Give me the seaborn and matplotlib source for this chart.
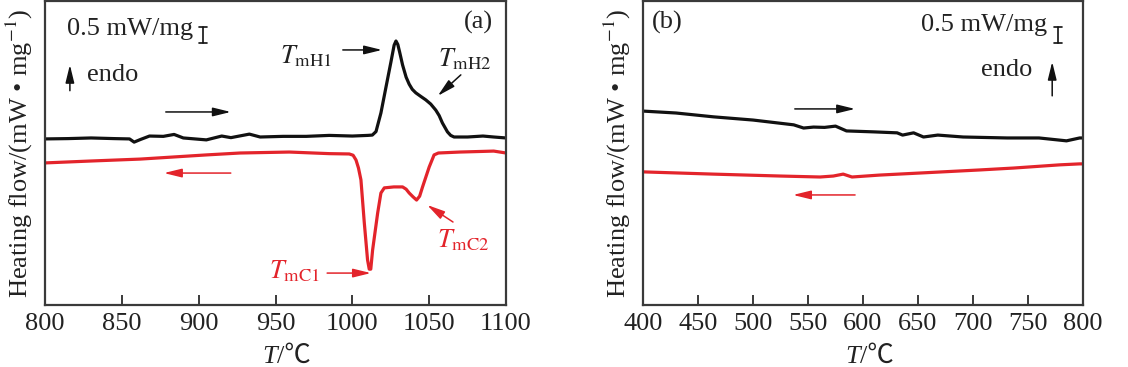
import numpy as np
import pandas as pd
import matplotlib
matplotlib.use("Agg")
import matplotlib.pyplot as plt
import seaborn as sns

# ---------------- data (heat flow, mW/mg, arbitrary offset) ----------------
# Panel (a): 800-1100 C
a_heat_T = [800, 815, 830, 845, 855, 858, 862, 868, 877, 884, 890, 905, 915, 921, 933,
            940, 955, 970, 985, 1000, 1010, 1013, 1015.4, 1018.6, 1021.9, 1025.1, 1027.2,
            1028.4, 1029.6, 1030.8, 1032.7, 1035, 1037, 1039, 1041.3, 1044.5, 1047.8,
            1051, 1054.3, 1056.5, 1058.6, 1061.9, 1064, 1066.2, 1075, 1085, 1092, 1100]
a_heat_Q = [5.19, 5.20, 5.22, 5.20, 5.19, 5.09, 5.17, 5.28, 5.27, 5.33, 5.22, 5.16, 5.28,
            5.23, 5.34, 5.25, 5.27, 5.27, 5.30, 5.28, 5.30, 5.31, 5.42, 6.00, 6.81, 7.59,
            8.12, 8.25, 8.14, 7.90, 7.50, 7.12, 6.90, 6.74, 6.63, 6.52, 6.41, 6.28, 6.09,
            5.92, 5.69, 5.41, 5.30, 5.25, 5.25, 5.28, 5.25, 5.22]

a_cool_T = [800, 830, 862, 905, 927, 959, 985, 998, 1000.5, 1002.4, 1004, 1005.6, 1007.8,
            1009.9, 1011, 1012, 1013.2, 1016.5, 1018.6, 1020.8, 1027, 1032.7, 1035, 1037,
            1039.5, 1041.8, 1043.8, 1045.7, 1050, 1053.2, 1056, 1070, 1085, 1092, 1100]
a_cool_Q = [4.44, 4.50, 4.56, 4.69, 4.75, 4.78, 4.73, 4.72, 4.68, 4.53, 4.28, 3.91, 2.56,
            1.41, 1.12, 1.12, 1.72, 2.88, 3.50, 3.66, 3.69, 3.69, 3.62, 3.50, 3.38, 3.28,
            3.40, 3.69, 4.31, 4.69, 4.75, 4.78, 4.80, 4.81, 4.75]

# Panel (b): 400-800 C
b_heat_T = [400, 430, 464, 500, 537, 546, 555, 565, 575, 585, 610, 631, 636, 646, 655,
            668, 691, 731, 760, 785, 797, 800]
b_heat_Q = [6.06, 6.00, 5.88, 5.78, 5.63, 5.53, 5.56, 5.55, 5.59, 5.44, 5.41, 5.38, 5.31,
            5.38, 5.25, 5.31, 5.25, 5.22, 5.22, 5.13, 5.22, 5.22]

b_cool_T = [400, 464, 525, 561, 573, 582, 590, 615, 655, 706, 737, 779, 797, 800]
b_cool_Q = [4.16, 4.09, 4.03, 4.00, 4.03, 4.09, 4.00, 4.06, 4.13, 4.22, 4.28, 4.38, 4.41, 4.41]

a_ticks = [800, 850, 900, 950, 1000, 1050, 1100]
b_ticks = [400, 450, 500, 550, 600, 650, 700, 750, 800]
scale_bar = 0.5   # mW/mg

# ---------------- style ----------------
sns.set_theme(style="white")
plt.rcParams["font.family"] = ["Liberation Serif", "Noto Sans CJK SC", "DejaVu Sans"]
plt.rcParams["mathtext.fontset"] = "stix"

BLACK = "#111111"
RED = "#e3242b"
SPINE = "#3a3a3a"
TXT = "#222222"
FS = 19

fig = plt.figure(figsize=(11.28, 3.67), dpi=100)
axA = fig.add_axes([45 / 1128, 1 - 305 / 367, 461 / 1128, 304 / 367])
axB = fig.add_axes([643 / 1128, 1 - 305 / 367, 440 / 1128, 304 / 367])

def style_axes(ax, xlim, ticks, split):
    ax.set_xlim(*xlim)
    ax.set_ylim(0, 9.5)
    ax.set_xticks(ticks)
    ax.set_xticklabels([str(t) for t in ticks], fontsize=FS, color=TXT)
    ax.set_yticks([])
    ax.tick_params(axis="x", direction="in", length=7, width=1.4, color=SPINE,
                   pad=6, bottom=True, top=False)
    for s in ax.spines.values():
        s.set_visible(True)
        s.set_color(SPINE)
        s.set_linewidth(1.6)
    # x label  "T/℃"  (T italic)
    ax.text(split, -0.171, "T", transform=ax.transAxes, fontsize=FS, color=TXT,
            fontstyle="italic", family="Liberation Serif", ha="right", va="center")
    ax.text(split, -0.171, "/℃", transform=ax.transAxes, fontsize=FS, color=TXT,
            family=["Liberation Serif", "Noto Sans CJK SC"], ha="left", va="center")
    ax.set_ylabel(r"Heating flow/(mW • mg$^{-1}$)", fontsize=FS, color=TXT,
                  labelpad=7)

def arrow(ax, xy_from, xy_to, color, lw=1.1):
    ax.annotate("", xy=xy_to, xytext=xy_from, xycoords="axes fraction",
                textcoords="axes fraction",
                arrowprops=dict(arrowstyle="-|>,head_length=0.9,head_width=0.22",
                                color=color, lw=lw, mutation_scale=12,
                                shrinkA=0, shrinkB=0))

def scalebar(ax, x, y0, y1):
    ax.plot([x, x], [y0, y1], color=BLACK, lw=1.2)
    w = (ax.get_xlim()[1] - ax.get_xlim()[0]) * 0.009
    ax.plot([x - w, x + w], [y0, y0], color=BLACK, lw=1.2)
    ax.plot([x - w, x + w], [y1, y1], color=BLACK, lw=1.2)

# ---------------- panel (a) ----------------
dfa_h = pd.DataFrame({"T": a_heat_T, "Q": a_heat_Q})
dfa_c = pd.DataFrame({"T": a_cool_T, "Q": a_cool_Q})
sns.lineplot(data=dfa_h, x="T", y="Q", ax=axA, color=BLACK, lw=2.3)
sns.lineplot(data=dfa_c, x="T", y="Q", ax=axA, color=RED, lw=2.3)
style_axes(axA, (800, 1100), a_ticks, 0.503)
axA.set_xlabel("")

axA.text(0.048, 0.908, "0.5 mW/mg", transform=axA.transAxes, fontsize=FS,
         ha="left", va="center", color=TXT)
scalebar(axA, 903, 8.69, 8.69 - scale_bar)
arrow(axA, (0.054, 0.705), (0.054, 0.79), BLACK)
axA.text(0.091, 0.757, "endo", transform=axA.transAxes, fontsize=FS,
         ha="left", va="center", color=TXT)
axA.text(0.972, 0.931, "(a)", transform=axA.transAxes, fontsize=FS,
         ha="right", va="center", color=TXT)
arrow(axA, (0.262, 0.635), (0.403, 0.635), BLACK)
arrow(axA, (0.403, 0.434), (0.258, 0.434), RED)

axA.text(0.623, 0.82, r"$T_{\mathrm{mH1}}$", transform=axA.transAxes, fontsize=FS,
         ha="right", va="center", color=TXT)
arrow(axA, (0.646, 0.839), (0.731, 0.839), BLACK)
axA.text(0.852, 0.81, r"$T_{\mathrm{mH2}}$", transform=axA.transAxes, fontsize=FS,
         ha="left", va="center", color=TXT)
arrow(axA, (0.902, 0.757), (0.852, 0.688), BLACK)

axA.text(0.597, 0.11, r"$T_{\mathrm{mC1}}$", transform=axA.transAxes, fontsize=FS,
         ha="right", va="center", color=RED)
arrow(axA, (0.612, 0.105), (0.707, 0.105), RED)
axA.text(0.850, 0.214, r"$T_{\mathrm{mC2}}$", transform=axA.transAxes, fontsize=FS,
         ha="left", va="center", color=RED)
arrow(axA, (0.885, 0.273), (0.829, 0.329), RED)

# ---------------- panel (b) ----------------
dfb_h = pd.DataFrame({"T": b_heat_T, "Q": b_heat_Q})
dfb_c = pd.DataFrame({"T": b_cool_T, "Q": b_cool_Q})
sns.lineplot(data=dfb_h, x="T", y="Q", ax=axB, color=BLACK, lw=2.3)
sns.lineplot(data=dfb_c, x="T", y="Q", ax=axB, color=RED, lw=2.3)
style_axes(axB, (400, 800), b_ticks, 0.493)
axB.set_xlabel("")

axB.text(0.020, 0.931, "(b)", transform=axB.transAxes, fontsize=FS,
         ha="left", va="center", color=TXT)
axB.text(0.918, 0.921, "0.5 mW/mg", transform=axB.transAxes, fontsize=FS,
         ha="right", va="center", color=TXT)
scalebar(axB, 777.3, 8.69, 8.69 - scale_bar)
axB.text(0.886, 0.773, "endo", transform=axB.transAxes, fontsize=FS,
         ha="right", va="center", color=TXT)
arrow(axB, (0.930, 0.688), (0.930, 0.80), BLACK)
arrow(axB, (0.345, 0.645), (0.482, 0.645), BLACK)
arrow(axB, (0.482, 0.362), (0.341, 0.362), RED)

fig.savefig("out.png", dpi=100, facecolor="white")
